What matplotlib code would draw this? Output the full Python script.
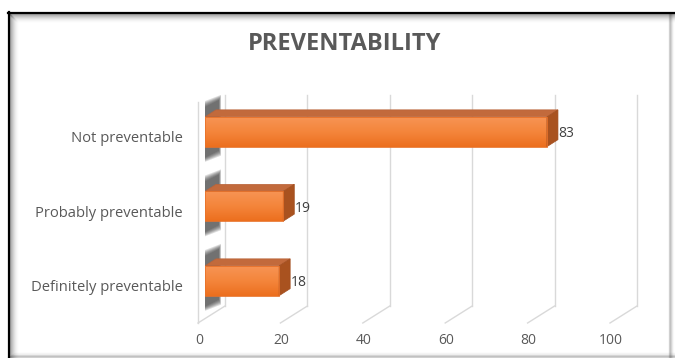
import numpy as np
import matplotlib
matplotlib.use("Agg")
import matplotlib.pyplot as plt
from matplotlib.patches import Polygon, Rectangle
from matplotlib.transforms import ScaledTranslation
from matplotlib.colors import LinearSegmentedColormap

categories = ["Definitely preventable", "Probably preventable", "Not preventable"]
values = [18, 19, 83]
tick_values = [0, 20, 40, 60, 80, 100]
tick_labels = ["0", "20", "40", "60", "80", "100"]
title = "PREVENTABILITY"

W, H = 675, 358
fig = plt.figure(figsize=(W / 100, H / 100), dpi=100)
fig.patch.set_facecolor("white")

x0, x1 = 205, 617
ytop_px, ybot_px = 94.5, 318
ax = fig.add_axes([x0 / W, (H - ybot_px) / H, (x1 - x0) / W, (ybot_px - ytop_px) / H])
ax.set_xlim(0, 100)
ax.set_ylim(-0.5, 2.5)
ax.axis("off")

px_per_x = (x1 - x0) / 100.0
px_per_y = (ybot_px - ytop_px) / 3.0


def off(dx, dy):
    return ax.transData + ScaledTranslation(dx / 100, -dy / 100, fig.dpi_scale_trans)


grid_col = "#d9d9d9"
for v in tick_values:
    ax.plot([v, v], [-0.5 + 12 / px_per_y, 2.5], color=grid_col, lw=1.0,
            transform=off(20, 0), clip_on=False, zorder=1)
    yb = -0.5 + 12 / px_per_y
    ax.plot([v + 20 / px_per_x, v - 7 / px_per_x], [yb, yb - 17 / px_per_y],
            color=grid_col, lw=1.0, clip_on=False, zorder=1)
ax.plot([0, 0], [-0.5 - 5 / px_per_y, 2.5 - 7 / px_per_y], color=grid_col, lw=1.0,
        transform=off(-7, 0), clip_on=False, zorder=1)

bar_h = 0.40
ddx = 11 / px_per_x
ddy = 7 / px_per_y
grad = np.linspace(0, 1, 64).reshape(-1, 1)
cmap = LinearSegmentedColormap.from_list("o", ["#ec6f1e", "#f4853b", "#f79454"])

for i, v in enumerate(values):
    b, t = i - bar_h / 2, i + bar_h / 2
    for k in range(6):
        s = (5 - k)
        xl = (0 - s * 0.4) / px_per_x
        xr = (14 + s * 0.4) / px_per_x
        ytl = t + (10 + s) / px_per_y
        ytr = t + (17 + s) / px_per_y
        ybl = b - (11 + s) / px_per_y
        ybr = b - (4 + s) / px_per_y
        ax.add_patch(Polygon([(xl, ybl), (xl, ytl), (xr, ytr), (xr, ybr)],
                             closed=True, facecolor="#2e2e2e", alpha=0.17, lw=0,
                             zorder=2))
    ax.imshow(grad, extent=(0, v, b, t), origin="lower", cmap=cmap,
              aspect="auto", zorder=4, interpolation="bilinear")
    ax.add_patch(Rectangle((0, b), v, bar_h, facecolor="none", edgecolor="#e8722a",
                           lw=0.6, zorder=5))
    ax.add_patch(Polygon([(0, t), (v, t), (v + ddx, t + ddy), (ddx, t + ddy)],
                         closed=True, facecolor="#c26a3c", edgecolor="#b9643a",
                         lw=0.5, zorder=4))
    ax.add_patch(Polygon([(v, b), (v, t), (v + ddx, t + ddy), (v + ddx, b + ddy)],
                         closed=True, facecolor="#a9521f", edgecolor="#a34f20",
                         lw=0.5, zorder=4))
    ax.text(v + ddx, i, str(v), ha="left", va="center", fontsize=10,
            color="#404040", family="Open Sans", zorder=6, transform=off(0.5, 2))
    ax.text(0, i, categories[i], ha="right", va="center", fontsize=10.6,
            color="#595959", family="Open Sans", transform=off(-22, 7), clip_on=False)

for v, lab in zip(tick_values, tick_labels):
    ax.text(v, -0.5, lab, ha="center", va="center", fontsize=10, color="#595959",
            family="Open Sans", transform=off(-6, 22), clip_on=False)

fig.text(345 / W, 1 - 44 / H, title, ha="center", va="center", fontsize=17,
         fontweight="bold", color="#595959", family="Open Sans")

fa = fig.add_axes([0, 0, 1, 1], zorder=-1)
fa.set_xlim(0, W)
fa.set_ylim(H, 0)
fa.axis("off")
for k in range(10):
    a = 0.35 * (1 - k / 10) ** 2
    fa.plot([8 + k, W], [13 + k, 13 + k], color="black", alpha=a, lw=1)
    fa.plot([9 + k, 9 + k], [13 + k, H], color="black", alpha=a, lw=1)
    fa.plot([8 + k, W], [H - 1 - k * 0.6, H - 1 - k * 0.6], color="black", alpha=a * 0.4, lw=1)
    fa.plot([W - 6 + k * 0.5, W - 6 + k * 0.5], [13, H], color="black", alpha=a * 0.4, lw=1)
fa.plot([8, W], [12.5, 12.5], color="black", lw=1.6)
fa.plot([8.5, 8.5], [12, H], color="black", lw=1.6)

fig.savefig("out.png", dpi=100)
